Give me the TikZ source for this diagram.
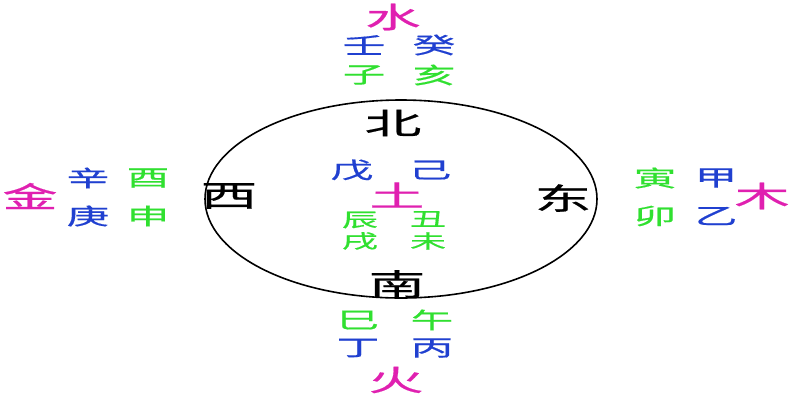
\documentclass[tikz,border=0pt]{standalone}
\usepackage{fontspec}
\newfontfamily\cjk[FakeStretch=1.9,FakeBold=0.6]{Noto Sans CJK SC}
\definecolor{mag}{HTML}{E020B0}
\definecolor{blu}{HTML}{2040D0}
\definecolor{grn}{HTML}{30E030}
\tikzset{
  big/.style={font=\cjk\fontsize{30}{32}\selectfont, text=black, inner sep=0pt},
  elem/.style={font=\cjk\fontsize{29}{31}\selectfont, text=mag, inner sep=0pt},
  stem/.style={font=\cjk\fontsize{22.5}{24}\selectfont, text=blu, inner sep=0pt},
  branch/.style={font=\cjk\fontsize{22.5}{24}\selectfont, text=grn, inner sep=0pt},
  small/.style={font=\cjk\fontsize{19}{21}\selectfont, text=grn, inner sep=0pt},
}
\begin{document}
\begin{tikzpicture}[x=1pt,y=-1pt]
\useasboundingbox (0,0) rectangle (800,400);
\fill[white] (0,0) rectangle (800,400);
\draw[line width=1.6pt] (401,199) ellipse [x radius=196, y radius=99];
% north
\node[elem] (shui) at (393,17) {水};
\node[stem] (ren) at (364,45) {壬};
\node[stem] (gui) at (434,45) {癸};
\node[branch] (zi) at (364,75) {子};
\node[branch] (hai) at (434,75) {亥};
\node[big] (bei) at (393,123) {北};
% centre
\node[stem] (wu1) at (352,170) {戊};
\node[stem] (ji) at (430,170) {己};
\node[elem] (tu) at (397,195) {土};
\node[small] (chen) at (360,220) {辰};
\node[small] (chou) at (428,219) {丑};
\node[small] (wu2) at (360,241) {戌};
\node[small] (wei) at (428,241) {未};
% south
\node[big] (nan) at (397,284) {南};
\node[branch] (si) at (358,320) {巳};
\node[branch] (wu3) at (432,320) {午};
\node[stem] (ding) at (358,348) {丁};
\node[stem] (bing) at (432,348) {丙};
\node[elem] (huo) at (396,380) {火};
% west
\node[big] (xi) at (229,196) {西};
\node[elem] (jin) at (30,196) {金};
\node[stem] (xin) at (88,178) {辛};
\node[branch] (you) at (148,178) {酉};
\node[stem] (geng) at (88,216) {庚};
\node[branch] (shen) at (148,216) {申};
% east
\node[big] (dong) at (563,198) {东};
\node[branch] (yin) at (655,178) {寅};
\node[stem] (jia) at (716,178) {甲};
\node[branch] (mao) at (655,216) {卯};
\node[stem] (yi) at (716,216) {乙};
\node[elem] (mu) at (762,196) {木};
\end{tikzpicture}
\end{document}
